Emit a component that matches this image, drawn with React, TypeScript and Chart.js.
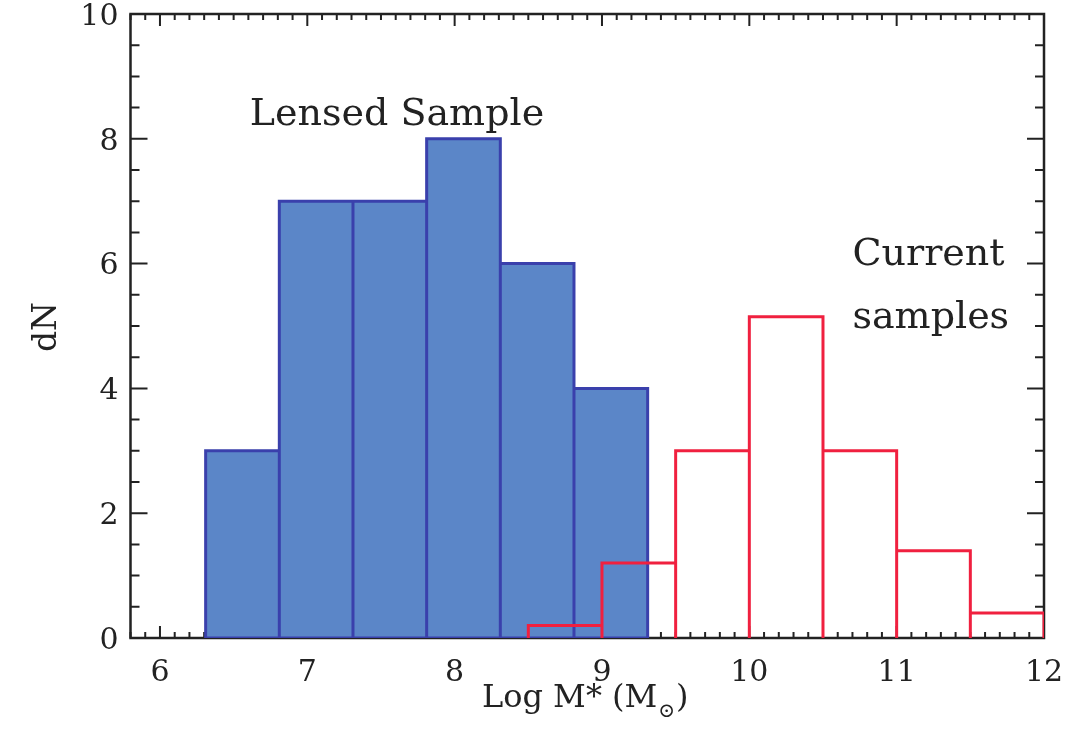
import React, { useEffect, useRef } from "react";
import { Chart, registerables } from "chart.js";

Chart.register(...registerables);

// ---- data ----
const lensedEdges = [6.31, 6.81, 7.31, 7.81, 8.31, 8.81, 9.31];
const lensedCounts = [3, 7, 7, 8, 6, 4];
const currentEdges = [8.5, 9, 9.5, 10, 10.5, 11, 11.5, 12];
const currentCounts = [0.2, 1.2, 3, 5.15, 3, 1.4, 0.4];
const xTicks = [6, 7, 8, 9, 10, 11, 12];
const yTicks = [0, 2, 4, 6, 8, 10];
const xRange = [5.8, 12];
const yRange = [0, 10];
const xMinorStep = 0.1;
const yMinorStep = 0.5;
const annotations = [
  { text: "Lensed Sample", x: 6.61, y: 8.22 },
  { text: "Current", x: 10.7, y: 5.98 },
  { text: "samples", x: 10.7, y: 4.97 },
];
const xTitle = { main: "Log M* (M", sub: "\u2299", end: ")" };
const yTitle = "dN";

const FONT = '"DejaVu Serif", "Liberation Serif", serif';
const TEXT = "#222222";

function histPath(edges: number[], counts: number[]) {
  const pts: { x: number; y: number }[] = [];
  pts.push({ x: edges[0], y: 0 });
  counts.forEach((c, i) => {
    pts.push({ x: edges[i], y: c });
    pts.push({ x: edges[i + 1], y: c });
    pts.push({ x: edges[i + 1], y: 0 });
  });
  return pts;
}

const framePlugin = {
  id: "frame",
  beforeDatasetsDraw(chart: any) {
    const { ctx, chartArea, scales } = chart;
    const { left, right, top, bottom } = chartArea;
    const xs = scales.x;
    const ys = scales.y;
    ctx.save();
    ctx.strokeStyle = TEXT;
    ctx.lineWidth = 2;
    ctx.beginPath();
    const nx = Math.round((xRange[1] - xRange[0]) / xMinorStep);
    for (let i = 0; i <= nx; i++) {
      const v = xRange[0] + i * xMinorStep;
      const major = Math.abs(v - Math.round(v)) < 1e-6;
      const len = major ? 12 : 6;
      const px = xs.getPixelForValue(v);
      ctx.moveTo(px, bottom);
      ctx.lineTo(px, bottom - len);
      ctx.moveTo(px, top);
      ctx.lineTo(px, top + len);
    }
    const ny = Math.round((yRange[1] - yRange[0]) / yMinorStep);
    for (let i = 0; i <= ny; i++) {
      const v = yRange[0] + i * yMinorStep;
      const major = Math.abs(v / 2 - Math.round(v / 2)) < 1e-6;
      const len = major ? 17 : 9;
      const py = ys.getPixelForValue(v);
      ctx.moveTo(left, py);
      ctx.lineTo(left + len, py);
      ctx.moveTo(right, py);
      ctx.lineTo(right - len, py);
    }
    ctx.stroke();
    ctx.lineWidth = 2.5;
    ctx.strokeRect(left, top, right - left, bottom - top);
    ctx.restore();
  },
  afterDatasetsDraw(chart: any) {
    const { ctx, chartArea, scales } = chart;
    const xs = scales.x;
    const ys = scales.y;
    ctx.save();
    ctx.fillStyle = TEXT;
    ctx.textBaseline = "alphabetic";
    ctx.textAlign = "left";
    ctx.font = `38px ${FONT}`;
    annotations.forEach((a) => {
      ctx.fillText(a.text, xs.getPixelForValue(a.x), ys.getPixelForValue(a.y));
    });
    // x title with subscript
    const mainFont = `32px ${FONT}`;
    const subFont = `20px ${FONT}`;
    ctx.font = mainFont;
    const w1 = ctx.measureText(xTitle.main).width;
    const w3 = ctx.measureText(xTitle.end).width;
    ctx.font = subFont;
    const w2 = ctx.measureText(xTitle.sub).width;
    const total = w1 + w2 + w3 + 2;
    const cx = (chartArea.left + chartArea.right) / 2 - 2;
    const base = 707;
    let x0 = cx - total / 2;
    ctx.font = mainFont;
    ctx.fillText(xTitle.main, x0, base);
    x0 += w1 + 1;
    ctx.font = subFont;
    ctx.fillText(xTitle.sub, x0, base + 10);
    x0 += w2 + 1;
    ctx.font = mainFont;
    ctx.fillText(xTitle.end, x0, base);
    // y title
    ctx.save();
    ctx.translate(56, (chartArea.top + chartArea.bottom) / 2 + 1);
    ctx.rotate(-Math.PI / 2);
    ctx.textAlign = "center";
    ctx.font = `33px ${FONT}`;
    ctx.fillText(yTitle, 0, 0);
    ctx.restore();
    ctx.restore();
  },
};

export default function App() {
  const ref = useRef<HTMLCanvasElement | null>(null);
  useEffect(() => {
    if (!ref.current) return;
    const chart = new Chart(ref.current, {
      type: "line",
      data: {
        datasets: [
          {
            label: "Current samples",
            data: histPath(currentEdges, currentCounts),
            borderColor: "#F0203F",
            borderWidth: 3,
            pointRadius: 0,
            fill: false,
            tension: 0,
            order: 0,
          },
          {
            label: "Lensed Sample base",
            data: [
              { x: lensedEdges[0], y: 0 },
              { x: lensedEdges[lensedEdges.length - 1], y: 0 },
            ],
            borderColor: "#3A40AC",
            borderWidth: 3,
            pointRadius: 0,
            fill: false,
            tension: 0,
            order: 1,
          },
          {
            label: "Lensed Sample",
            data: histPath(lensedEdges, lensedCounts),
            borderColor: "#3A40AC",
            backgroundColor: "#5B86C8",
            borderWidth: 3,
            pointRadius: 0,
            fill: "origin",
            tension: 0,
            order: 2,
          },
        ] as any,
      },
      options: {
        animation: false,
        responsive: false,
        maintainAspectRatio: false,
        layout: { padding: { top: 14, right: 39, left: 0, bottom: 0 } },
        plugins: {
          legend: { display: false },
          tooltip: { enabled: false },
        },
        scales: {
          x: {
            type: "linear",
            min: xRange[0],
            max: xRange[1],
            grid: { display: false, drawTicks: false },
            border: { display: false },
            afterBuildTicks: (s: any) => {
              s.ticks = xTicks.map((v) => ({ value: v }));
            },
            afterFit: (s: any) => {
              s.height = 93;
              s.paddingLeft = 0;
              s.paddingRight = 0;
            },
            ticks: {
              padding: 17,
              color: TEXT,
              font: { family: FONT, size: 30 },
              callback: (v: any) => String(v),
            },
          },
          y: {
            type: "linear",
            min: yRange[0],
            max: yRange[1],
            grid: { display: false, drawTicks: false },
            border: { display: false },
            afterBuildTicks: (s: any) => {
              s.ticks = yTicks.map((v) => ({ value: v }));
            },
            afterFit: (s: any) => {
              s.width = 130.5;
              s.paddingTop = 0;
              s.paddingBottom = 0;
            },
            ticks: {
              padding: 12,
              labelOffset: 3,
              color: TEXT,
              font: { family: FONT, size: 30 },
              callback: (v: any) => String(v),
            },
          },
        },
      } as any,
      plugins: [framePlugin],
    });
    return () => chart.destroy();
  }, []);
  return (
    <div style={{ position: "fixed", left: 0, top: 0, width: 1083, height: 731, background: "#fff" }}>
      <canvas ref={ref} width={1083} height={731} style={{ width: 1083, height: 731, display: "block" }} />
    </div>
  );
}
